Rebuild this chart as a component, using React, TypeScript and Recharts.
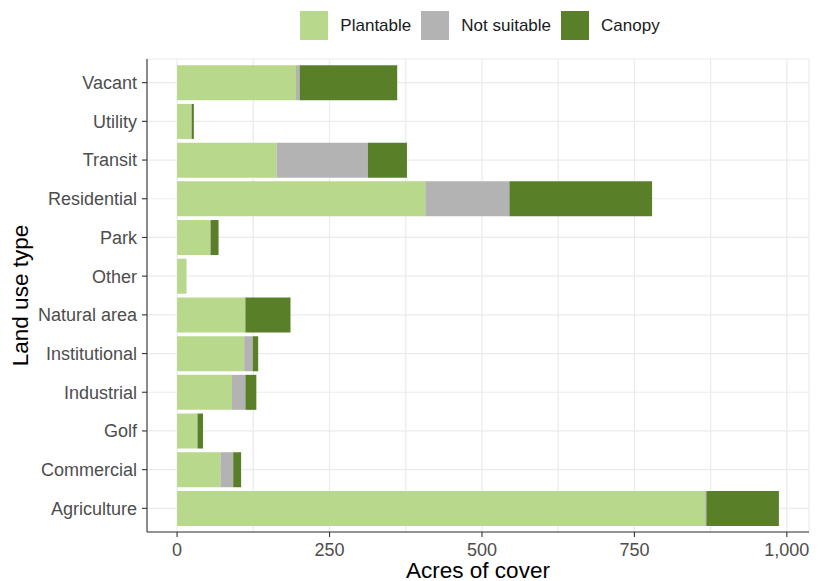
import { BarChart, Bar, XAxis, YAxis, CartesianGrid, Legend } from 'recharts'

const categories = [
  'Vacant',
  'Utility',
  'Transit',
  'Residential',
  'Park',
  'Other',
  'Natural area',
  'Institutional',
  'Industrial',
  'Golf',
  'Commercial',
  'Agriculture',
]
const plantable = [195, 23, 163, 407, 54, 15, 112, 110, 90, 33, 71, 866]
const notSuitable = [6, 1, 150, 138, 1, 0.5, 0, 14, 22, 0.5, 21, 2]
const canopy = [160, 3.5, 64, 234, 13, 0, 74, 9, 18, 9, 13, 119]

// ggplot puts grid lines on both major and minor breaks
const xTicks = [0, 125, 250, 375, 500, 625, 750, 875, 1000]
const xLabels = [0, 250, 500, 750, 1000]

const SERIES = [
  { key: 'plantable', name: 'Plantable', color: '#b8d98b' },
  { key: 'notSuitable', name: 'Not suitable', color: '#b3b3b3' },
  { key: 'canopy', name: 'Canopy', color: '#5a7f29' },
]

const FONT = '"Liberation Sans", Arial, sans-serif'
const X_DOMAIN: [number, number] = [-49.35, 1036.35]

function XTick(props: any) {
  const { x, y, payload } = props
  const v = payload.value
  if (!xLabels.includes(v)) return null
  return (
    <g>
      <line x1={x} x2={x} y1={y - 7} y2={y - 2} stroke="#333" strokeWidth={1.1} />
      <text x={x} y={y + 17} textAnchor="middle" fill="#4d4d4d" fontSize={18} fontFamily={FONT}>
        {v.toLocaleString('en-US')}
      </text>
    </g>
  )
}

function XTitle(props: any) {
  const vb = props.viewBox || { x: 147, y: 532, width: 662, height: 49 }
  return (
    <text x={vb.x + vb.width / 2} y={578} textAnchor="middle" fontSize={22.5} fill="#000" fontFamily={FONT}>
      Acres of cover
    </text>
  )
}

function YTitle(props: any) {
  const vb = props.viewBox || { x: 0, y: 59, width: 147, height: 473 }
  const cy = vb.y + vb.height / 2
  return (
    <text
      x={28}
      y={cy}
      transform={`rotate(-90, 28, ${cy})`}
      textAnchor="middle"
      fontSize={22.5}
      fill="#000"
      fontFamily={FONT}
    >
      Land use type
    </text>
  )
}

function LegendContent() {
  return (
    <div
      style={{
        display: 'flex',
        justifyContent: 'center',
        alignItems: 'center',
        paddingTop: 11,
        paddingLeft: 14,
        fontFamily: FONT,
        fontSize: 17,
        color: '#1a1a1a',
      }}
    >
      {SERIES.map((s) => (
        <div key={s.key} style={{ display: 'flex', alignItems: 'center', marginRight: 10 }}>
          <div style={{ width: 28, height: 29, background: s.color }} />
          <span style={{ marginLeft: 12 }}>{s.name}</span>
        </div>
      ))}
    </div>
  )
}

export default function App() {
  const data = categories.map((name, i) => ({
    name,
    plantable: plantable[i],
    notSuitable: notSuitable[i],
    canopy: canopy[i],
  }))

  return (
    <div
      style={{
        position: 'absolute',
        left: 0,
        top: 0,
        width: 820,
        height: 581,
        background: '#fff',
        fontFamily: FONT,
      }}
    >
      <BarChart
        width={820}
        height={581}
        data={data}
        layout="vertical"
        margin={{ top: 0, right: 11, bottom: 0, left: 0 }}
        barCategoryGap="5%"
      >
        <CartesianGrid stroke="#ebebeb" strokeWidth={1.2} />
        <XAxis
          type="number"
          domain={X_DOMAIN}
          allowDataOverflow
          ticks={xTicks}
          interval={0}
          height={49}
          tickSize={5}
          tickMargin={2}
          tickLine={false}
          axisLine={{ stroke: '#333', strokeWidth: 1.1 }}
          tick={<XTick />}
          label={<XTitle />}
        />
        <XAxis
          xAxisId="top"
          orientation="top"
          type="number"
          domain={X_DOMAIN}
          allowDataOverflow
          height={0}
          tick={false}
          tickLine={false}
          axisLine={{ stroke: '#8c8c8c' }}
        />
        <YAxis
          type="category"
          dataKey="name"
          width={147}
          padding={{ top: 4.3, bottom: 4.3 }}
          interval={0}
          tickSize={5}
          tickMargin={5}
          tickLine={{ stroke: '#333', strokeWidth: 1.1 }}
          axisLine={{ stroke: '#333', strokeWidth: 1.1 }}
          tick={{ fill: '#4d4d4d', fontSize: 18, fontFamily: FONT }}
          label={<YTitle />}
        />
        <YAxis
          yAxisId="right"
          orientation="right"
          type="category"
          dataKey="name"
          width={0}
          tick={false}
          tickLine={false}
          axisLine={{ stroke: '#8c8c8c' }}
        />
        <Legend
          verticalAlign="top"
          height={59}
          wrapperStyle={{ left: 147, width: 662, top: 0 }}
          content={<LegendContent />}
        />
        {SERIES.map((s) => (
          <Bar
            key={s.key}
            dataKey={s.key}
            name={s.name}
            stackId="cover"
            fill={s.color}
            isAnimationActive={false}
          />
        ))}
      </BarChart>
    </div>
  )
}
